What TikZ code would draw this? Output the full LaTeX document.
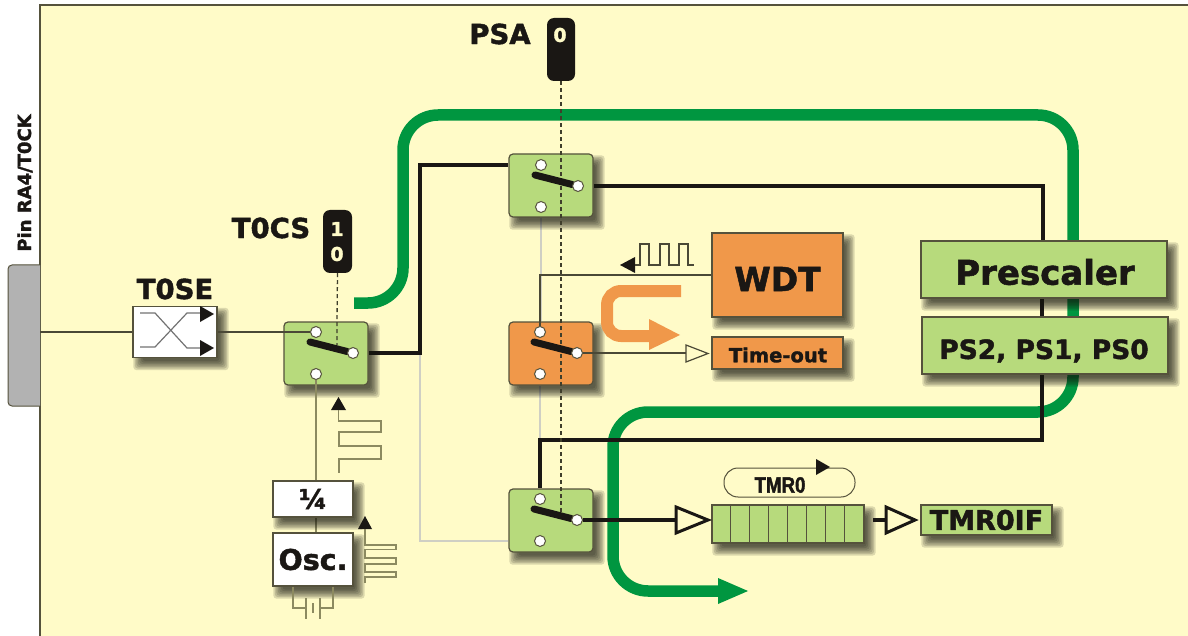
\documentclass[tikz,border=0pt]{standalone}
\usepackage{fontspec}
\setmainfont{DejaVu Sans}[BoldFeatures={FakeBold=1.6}]
\newfontfamily\narrowf{Liberation Sans}[BoldFeatures={FakeBold=2}]
\usetikzlibrary{calc}
\definecolor{paper}{HTML}{FFFBC8}
\definecolor{lgreen}{HTML}{B7DA7C}
\definecolor{dgreen}{HTML}{009640}
\definecolor{orng}{HTML}{F0984A}
\definecolor{ink}{HTML}{1A1714}
\definecolor{edge}{HTML}{55523C}
\definecolor{wire}{HTML}{4A4836}
\definecolor{olive}{HTML}{8C8A60}
\definecolor{pale}{HTML}{CFCFC4}
\pgfdeclarelayer{wires}\pgfdeclarelayer{shadows}\pgfdeclarelayer{over}\pgfdeclarelayer{term}
\pgfsetlayers{wires,shadows,main,over,term}
\newcommand{\softshadow}[1]{\begin{pgfonlayer}{shadows}\foreach \g in {-4,-2.5,-1,0.5,2,3.5,5}{\fill[black!85!olive,fill opacity=.15,rounded corners=3pt] ([shift={({6-\g},{7+\g})}]#1.south west) rectangle ([shift={({6+\g},{7-\g})}]#1.north east);}\end{pgfonlayer}}
\tikzset{
 x=1pt,y=-1pt,
 box/.style={draw=edge,line width=1.2pt,inner sep=0pt,text=ink,font=\bfseries},
 whitebox/.style={box,fill=white},
 greenbox/.style={box,fill=lgreen},
 orangebox/.style={box,fill=orng},
 switchbox/.style={box,rounded corners=4pt,minimum width=84pt,minimum height=63pt},
 terminal/.style={circle,draw=edge,line width=1pt,fill=white,minimum size=11pt,inner sep=0pt},
 lever/.style={line width=7pt,line cap=round,ink},
 thinwire/.style={line width=1.3pt,wire},
 oldwire/.style={line width=2.2pt,olive},
 palewire/.style={line width=1.6pt,pale},
 blackwire/.style={line width=3.6pt,ink},
 greenpipe/.style={line width=11.5pt,dgreen},
 dashline/.style={line width=1.3pt,black!55!olive,dashed,dash pattern=on 4pt off 3pt},
 pill/.style={fill=ink,rounded corners=7pt,inner sep=0pt,text=paper,font=\bfseries\fontsize{19}{19}\selectfont},
 lab/.style={text=ink,font=\bfseries\fontsize{27.5}{27.5}\selectfont,inner sep=0pt},
 pulse/.style={line width=1.4pt,wire},
 tipfill/.style={fill=ink},
}
\begin{document}
\begin{tikzpicture}
\useasboundingbox (0,0) rectangle (1188,636);
\begin{pgfonlayer}{wires}
\fill[white] (0,0) rectangle (1188,636);
\fill[paper] (40,5) rectangle (1188,636);
\draw[line width=1.4pt,edge] (40,636) -- (40,5) -- (1188,5);
\fill[black!30,draw=edge,line width=1pt,rounded corners=4pt] (40,265) -- (8,265) -- (8,406) -- (40,406);
\end{pgfonlayer}
\node[rotate=90,text=ink,font=\bfseries\fontsize{18}{18}\selectfont] (pin) at (25,183) {Pin RA4/T0CK};
\coordinate (pinout) at (40,332);

% boxes
\node[whitebox,minimum width=84pt,minimum height=51pt] (tose) at (175,332) {};
\node[switchbox,fill=lgreen] (swa) at (326,353.5) {};
\node[switchbox,fill=lgreen] (swb) at (551,185.5) {};
\node[switchbox,fill=orng] (swc) at (551,353.5) {};
\node[switchbox,fill=lgreen] (swd) at (551,520.5) {};
\node[orangebox,minimum width=131pt,minimum height=84pt] (wdt) at (777.5,275) {};
\node[text=ink,font=\bfseries\fontsize{33}{33}\selectfont,inner sep=0pt] (wdtl) at (777.5,279) {WDT};
\node[orangebox,minimum width=131pt,minimum height=32pt] (tout) at (777.5,353) {};
\node[text=ink,font=\bfseries\fontsize{19.5}{20}\selectfont,inner sep=0pt] (toutl) at (778,355) {Time-out};
\node[greenbox,minimum width=246pt,minimum height=57pt] (pre) at (1044,269.5) {};
\node[text=ink,font=\bfseries\fontsize{34}{34}\selectfont,inner sep=0pt] (prel) at (1045,272) {Prescaler};
\node[greenbox,minimum width=246pt,minimum height=57pt] (ps) at (1045,345.5) {};
\node[text=ink,font=\bfseries\fontsize{26.5}{27}\selectfont,inner sep=0pt] (psl) at (1044,351) {PS2, PS1, PS0};
\node[whitebox,minimum width=80pt,minimum height=36pt,font=\bfseries\fontsize{27}{27}\selectfont] (div) at (313,499) {¼};
\node[whitebox,minimum width=80pt,minimum height=53pt,font=\bfseries\fontsize{28.5}{28.5}\selectfont] (osc) at (313,559.5) {Osc.};
\node[greenbox,minimum width=152pt,minimum height=38pt] (reg) at (788,524) {};
\node[greenbox,minimum width=131pt,minimum height=30pt,font=\bfseries\fontsize{27}{27}\selectfont] (tif) at (986.5,520) {TMR0IF};
\foreach \n in {tose,swa,swb,swc,swd,wdt,tout,pre,ps,div,osc,reg,tif}{\softshadow{\n}}
\foreach \i in {1,...,7}{\draw[line width=1.2pt,edge] ($(reg.north west)+({19*\i},0)$) -- ($(reg.south west)+({19*\i},0)$);}

% labels and pills
\node[lab] (tosel) at (175,289) {T0SE};
\node[lab] (tocsl) at (271,228) {T0CS};
\node[lab] (psal) at (500,34) {PSA};
\node[pill,minimum width=29pt,minimum height=63pt] (pilla) at (337.5,241.5) {};
\node[pill] (one) at (337,229) {1};
\node[pill] (zero) at (337,254) {0};
\node[pill,minimum width=28pt,minimum height=63pt] (pillb) at (561,49.5) {};
\node[pill] (zerob) at (560,35) {0};
\node[draw=edge,line width=1pt,rounded corners=14pt,minimum width=131pt,minimum height=29pt,inner sep=0pt] (tmrpill) at (789.5,482.5) {};
\node[text=ink,xscale=.85,font=\narrowf\bfseries\fontsize{22}{22}\selectfont,inner sep=0pt] (tmrl) at (780,485) {TMR0};

% terminals
\begin{pgfonlayer}{term}
\foreach \s/\cx/\cy in {a/316/332,b/541/165,c/540/332,d/540/499}{
 \node[terminal] (\s top) at (\cx,\cy) {};
 \node[terminal] (\s low) at (\cx,\cy+42) {};
 \node[terminal] (\s out) at (\cx+37,\cy+21) {};
 \coordinate (\s piv) at (\cx-6,\cy+10);
}
\end{pgfonlayer}

% green pipe
\coordinate (gs) at (354,303);
\coordinate (ge) at (722,591);
\begin{pgfonlayer}{wires}
\draw[greenpipe,rounded corners=35pt] (gs) -- (403,303) -- (403,115) -- (1073,115) -- (1073,412) -- (613,412) -- (613,591) -- (ge);
\fill[dgreen] (718,578) -- (748,591) -- (718,604) -- cycle;
% pale wires
\draw[palewire] (swb.south -| blow) -- (swc.north -| blow);
\draw[palewire] (swc.south -| clow) -- (swd.north -| clow);
\draw[palewire] (420,353) -- (420,541) -- (swd.west |- dlow);
% heavy wires
\draw[blackwire,line join=miter] (swa.east |- aout) -- (420,353) -- (420,165) -- (swb.west |- btop);
\draw[blackwire,line join=miter] (swb.east |- bout) -- (1043,186) -- (pre.north -| 1043,0);
\draw[blackwire,line join=miter] (1042,298) -- (1042,440) -- (540,440) -- (swd.north -| dtop);
\draw[thinwire] (wdt.west) -- (ctop |- wdt.west) -- (swc.north -| ctop);
\draw[thinwire] (pinout) -- (tose.west);
\draw[oldwire] (div.south -| 316,0) -- (osc.north -| 316,0);
\end{pgfonlayer}

% wires on switch faces
\begin{pgfonlayer}{over}
\draw[thinwire] (tose.east) -- (swa.west |- atop) -- (atop);
\draw[oldwire] (alow) -- (div.north -| alow);
\draw[thinwire] (swc.north -| ctop) -- (ctop);
\draw[thinwire] (cout) -- (686,353);
\draw[blackwire] (dout) -- (675,520);
\draw[dashline] (pilla.south) -- ($(swa.north)+(11,0)$) -- (337,345);
\draw[dashline] (pillb.south) -- (561,512);
\foreach \s in {a,b,c,d}{\draw[lever] (\s piv) -- (\s out);}
\end{pgfonlayer}

% hollow triangles
\draw[line width=1.2pt,wire,fill=paper] (686,345) -- (708,353.5) -- (686,362) -- cycle;
\draw[line width=3pt,ink,fill=paper,line join=miter] (676,507) -- (708,520) -- (676,533) -- cycle;
\draw[blackwire] (873,520) -- (886,520);
\draw[line width=3pt,ink,fill=paper,line join=miter] (886,507) -- (915,520) -- (886,533) -- cycle;

% orange U arrow
\draw[line width=12pt,orng,rounded corners=14pt] (681,291) -- (607,291) -- (607,336) -- (650,336);
\fill[orng] (649,319) -- (680,335) -- (649,350) -- cycle;

% pulses
\fill[tipfill] (620,265) -- (635,257) -- (635,273) -- cycle;
\draw[pulse] (635,265) -- (640,265) -- (640,244) -- (649,244) -- (649,265) -- (660,265) -- (660,244) -- (669,244) -- (669,265) -- (679,265) -- (679,244) -- (688,244) -- (688,265) -- (694,265);
\fill[tipfill] (338.5,397) -- (346,410) -- (331,410) -- cycle;
\draw[oldwire,line width=1.8pt] (338.5,410) -- (338.5,421) -- (381,421) -- (381,432) -- (339,432) -- (339,446) -- (381,446) -- (381,459) -- (339,459) -- (339,473);
\fill[tipfill] (365,516) -- (372,529) -- (358,529) -- cycle;
\draw[oldwire,line width=1.6pt] (365,529) -- (365,545) -- (396,545) -- (396,549.5) -- (365,549.5) -- (365,558) -- (396,558) -- (396,564) -- (365,564) -- (365,572) -- (396,572) -- (396,577) -- (365,577) -- (365,583);

% crystal
\draw[oldwire,line width=1.5pt] (osc.south -| 293,0) -- (293,608) -- (306,608);
\draw[oldwire,line width=1.5pt] (osc.south -| 333,0) -- (333,608) -- (320,608);
\draw[oldwire,line width=1.5pt] (306,598) -- (306,619);
\draw[oldwire,line width=1.5pt] (313,603) -- (313,613);
\draw[oldwire,line width=1.5pt] (320,598) -- (320,619);

% T0SE crossing
\draw[line width=1.2pt,black!55] (140,313) -- (155,313) -- (187,348) -- (201,348);
\draw[line width=1.2pt,black!55] (140,347) -- (155,347) -- (187,313) -- (201,313);
\fill[tipfill] (200,306) -- (214,314) -- (200,322) -- cycle;
\fill[tipfill] (200,340) -- (214,348) -- (200,356) -- cycle;

% TMR0 pill arrow
\fill[tipfill] (816,459) -- (830,467) -- (816,475) -- cycle;
\end{tikzpicture}
\end{document}
